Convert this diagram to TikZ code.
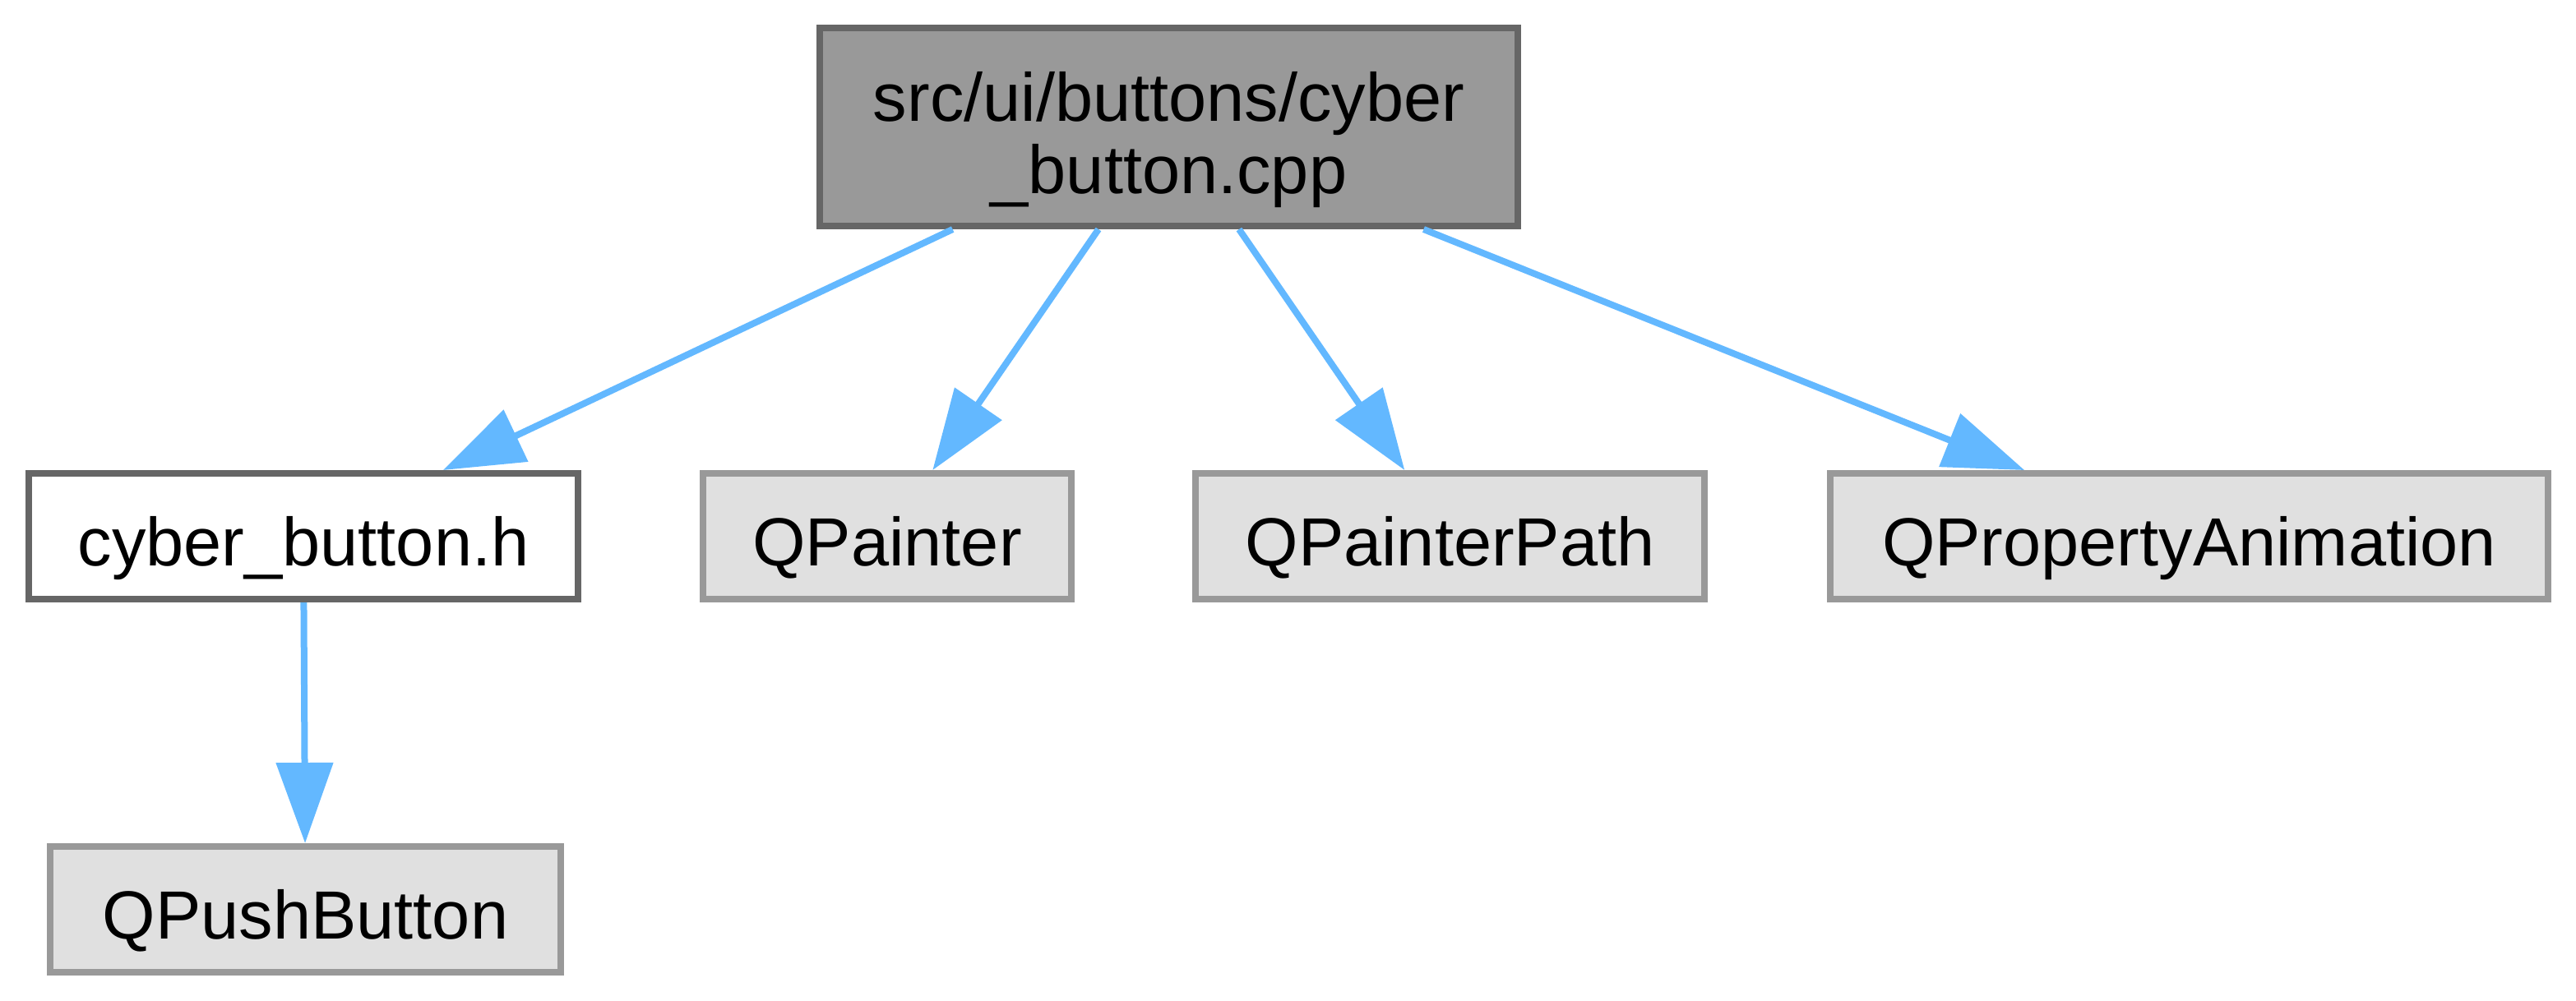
\documentclass[tikz,border=0pt]{standalone}
\usepackage{fontspec}
\setmainfont{Liberation Sans}
\usetikzlibrary{arrows.meta}

\definecolor{mainfill}{HTML}{999999}
\definecolor{mainborder}{HTML}{666666}
\definecolor{extfill}{HTML}{E0E0E0}
\definecolor{extborder}{HTML}{999999}
\definecolor{edgeblue}{HTML}{63B8FF}

\begin{document}
\begin{tikzpicture}[
    >={Triangle[length=0.98cm, width=0.68cm]},
    font=\fontsize{23.6}{25}\selectfont,
    box/.style={rectangle, line width=0.08cm, inner sep=0pt, align=center, minimum height=1.53cm, text height=0.75cm, text depth=0.04cm},
    srcnode/.style={box, fill=mainfill, draw=mainborder, minimum width=8.49cm, minimum height=2.41cm, text height=1.65cm},
    hdrnode/.style={box, fill=white, draw=mainborder},
    extnode/.style={box, fill=extfill, draw=extborder},
    dep/.style={->, draw=edgeblue, fill=edgeblue, line width=0.08cm}
]
    \useasboundingbox (0,0) rectangle (31.33,-12.17);

    % 1. Source file
    \node[srcnode] (src) at (14.215, -1.545) {src/ui/buttons/cyber\\\_button.cpp};

    % 2. Included files
    \node[hdrnode, minimum width=6.68cm] (hdr) at (3.69, -6.525) {cyber\_button.h};
    \node[extnode, minimum width=4.48cm] (painter) at (10.79, -6.525) {QPainter};
    \node[extnode, minimum width=6.19cm] (path) at (17.635, -6.525) {QPainterPath};
    \node[extnode, minimum width=8.73cm] (anim) at (26.625, -6.525) {QPropertyAnimation};

    % 3. Included by the header
    \node[extnode, minimum width=6.21cm] (push) at (3.715, -11.065) {QPushButton};

    % Arrows: includes
    \draw[dep] (src) -- (hdr);
    \draw[dep] (src) -- (painter);
    \draw[dep] (src) -- (path);
    \draw[dep] (src) -- (anim);
    \draw[dep] (hdr) -- (push);

\end{tikzpicture}
\end{document}
